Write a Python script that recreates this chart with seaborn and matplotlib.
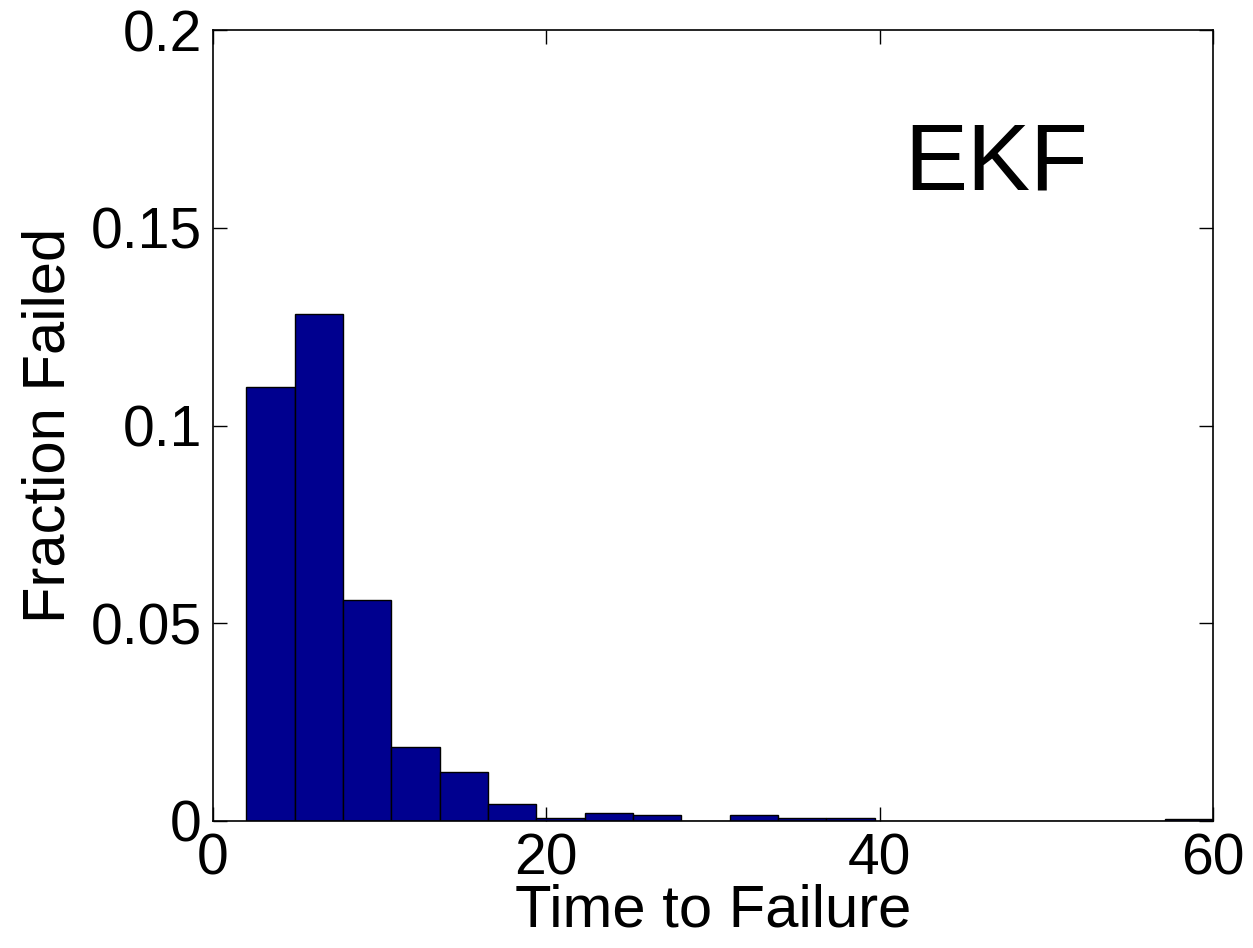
import numpy as np
import pandas as pd
import matplotlib
matplotlib.use("Agg")
import matplotlib.pyplot as plt
import seaborn as sns

# Histogram bins (20 bins from 2 to 60) and bar heights (fraction failed)
bin_edges = [2.0 + 2.9 * i for i in range(21)]
fractions = [0.1097, 0.1282, 0.0559, 0.0187, 0.0124, 0.0042, 0.0007, 0.0020,
             0.0014, 0.0, 0.0014, 0.0007, 0.0007, 0.0, 0.0, 0.0, 0.0, 0.0,
             0.0, 0.0006]
x_ticks = [0, 20, 40, 60]
y_ticks = [0, 0.05, 0.1, 0.15, 0.2]
y_tick_labels = ["0", "0.05", "0.1", "0.15", "0.2"]

centers = [(bin_edges[i] + bin_edges[i + 1]) / 2 for i in range(20)]
df = pd.DataFrame({"time": centers, "frac": fractions})

sns.set_style("white")
plt.rcParams["font.family"] = ["Liberation Sans", "DejaVu Sans"]
plt.rcParams["text.color"] = "black"
plt.rcParams["axes.labelcolor"] = "black"
plt.rcParams["xtick.color"] = "black"
plt.rcParams["ytick.color"] = "black"

fig = plt.figure(figsize=(12.53, 9.48), dpi=100)
ax = fig.add_axes([0.17, 0.134, 0.798, 0.834])

sns.histplot(data=df, x="time", weights="frac", bins=bin_edges, ax=ax,
             color="#00008F", alpha=1.0, edgecolor="black", linewidth=1.0)

ax.set_xlim(0, 60)
ax.set_ylim(0, 0.2)
ax.set_xticks(x_ticks)
ax.set_xticklabels([str(t) for t in x_ticks])
ax.set_yticks(y_ticks)
ax.set_yticklabels(y_tick_labels)
ax.tick_params(direction="in", length=10, width=1, labelsize=41,
               top=True, right=True, bottom=True, left=True, pad=8,
               colors="black")
for s in ax.spines.values():
    s.set_visible(True)
    s.set_color("black")
    s.set_linewidth(1.2)

ax.set_xlabel("Time to Failure", fontsize=43, labelpad=-2, color="black")
ax.set_ylabel("Fraction Failed", fontsize=43, labelpad=10, color="black")
ax.text(47, 0.166, "EKF", fontsize=68, ha="center", va="center", color="black")

fig.savefig("out.png", dpi=100)
